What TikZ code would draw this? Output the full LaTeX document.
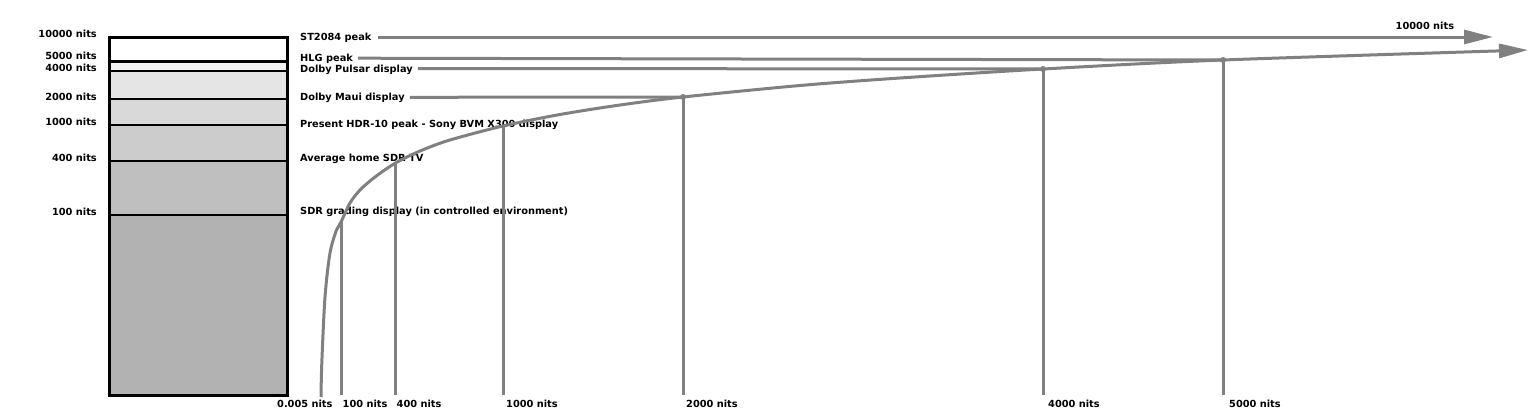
\documentclass[tikz,border=0pt]{standalone}
\usepackage{fontspec}
\setmainfont{DejaVu Sans}
\usetikzlibrary{arrows.meta}
\begin{document}
\begin{tikzpicture}[x=1pt,y=-1pt,
  lbl/.style={font=\bfseries\fontsize{9.8}{11}\selectfont, inner sep=0pt, text height=7pt, text depth=0pt},
  band/.style={draw=black, line width=2pt},
  curve/.style={draw=gray, line width=3pt},
  big/.style={-{Triangle[length=29pt,width=14pt]}},
  dot/.style={fill=gray}]
\useasboundingbox (0,0) rectangle (1536,418);
% the bar
\fill[white] (109,37) rectangle (287,61);
\fill[black!5] (109,61) rectangle (287,71);
\fill[black!10] (109,71) rectangle (287,99);
\fill[black!15] (109,99) rectangle (287,125);
\fill[black!20] (109,125) rectangle (287,161);
\fill[black!25] (109,161) rectangle (287,215);
\fill[black!30] (109,215) rectangle (287,395);
\draw[band, line width=3pt] (109,61) -- (287,61);
\foreach \y in {71,99,125,161,215}
  \draw[band] (109,\y) -- (287,\y);
\draw[line width=3pt] (109,37) rectangle (287,395);
% levels on the left
\node[lbl, anchor=east] (l10000) at (97,33.6) {10000 nits};
\node[lbl, anchor=east] (l5000) at (97,55.8) {5000 nits};
\node[lbl, anchor=east] (l4000) at (97,67.8) {4000 nits};
\node[lbl, anchor=east] (l2000) at (97,96.7) {2000 nits};
\node[lbl, anchor=east] (l1000) at (97,122.2) {1000 nits};
\node[lbl, anchor=east] (l400) at (97,157.5) {400 nits};
\node[lbl, anchor=east] (l100) at (97,211.8) {100 nits};
% displays
\node[lbl, anchor=west] (st) at (300,37) {ST2084 peak};
\node[lbl, anchor=west] (hlg) at (300,58.2) {HLG peak};
\node[lbl, anchor=west] (pulsar) at (300,68.5) {Dolby Pulsar display};
\node[lbl, anchor=west] (maui) at (300,97.3) {Dolby Maui display};
\node[lbl, anchor=west] (hdr) at (300,123.7) {Present HDR-10 peak - Sony BVM X300 display};
\node[lbl, anchor=west] (home) at (300,157.8) {Average home SDR TV};
\node[lbl, anchor=west] (grade) at (300,210.5) {SDR grading display (in controlled environment)};
% points on the curve
\coordinate (base) at (0,395);
\coordinate (p0) at (321,397);
\coordinate (p100) at (341,222);
\coordinate (p400) at (395.5,163);
\coordinate (p1000) at (503,126);
\coordinate (p2000) at (683,97);
\coordinate (p4000) at (1043,69);
\coordinate (p5000) at (1223,60);
\coordinate (pend) at (1528,50);
\coordinate (stend) at (1493,37);
% the curve
\draw[curve, big] plot[smooth, tension=0.5] coordinates {(p0) (321.8,363) (325,297) (330,253) (336.5,230) (p100) (350,203) (360,190) (375,177) (p400) (420,151) (450,140) (p1000) (560,114.5) (620,105) (p2000) (800,85.5) (900,78) (p4000) (p5000) (pend)};
\draw[curve, big] ([xshift=6pt]st.east) -- (stend);
\draw[curve] ([xshift=5pt]hlg.east) -- (p5000);
\draw[curve] ([xshift=5pt]pulsar.east) -- (p4000);
\draw[curve] ([xshift=5pt]maui.east) -- (p2000);
\foreach \p in {p100,p400,p1000,p2000,p4000,p5000}
  \draw[curve] (\p) -- (\p |- base);
\foreach \p in {p2000,p4000,p5000}
  \fill[dot] (\p) circle (3pt);
\node[lbl, anchor=west] (top) at (1395.5,26.2) {10000 nits};
% nits along the bottom
\node[lbl, anchor=west] (b0) at (277,404) {0.005 nits};
\node[lbl, anchor=west] (b100) at (342.5,404) {100 nits};
\node[lbl, anchor=west] (b400) at (396.5,404) {400 nits};
\node[lbl, anchor=west] (b1000) at (506,404) {1000 nits};
\node[lbl, anchor=west] (b2000) at (686,404) {2000 nits};
\node[lbl, anchor=west] (b4000) at (1048,404) {4000 nits};
\node[lbl, anchor=west] (b5000) at (1229,404) {5000 nits};
\end{tikzpicture}
\end{document}
